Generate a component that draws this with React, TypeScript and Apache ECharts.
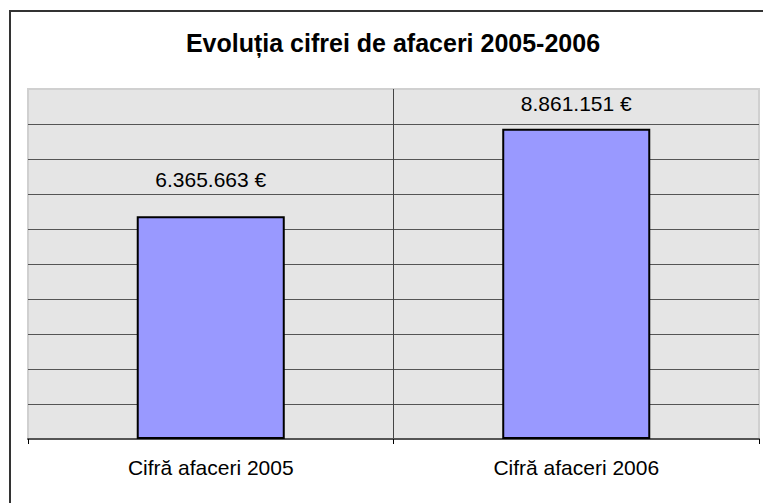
import React, { useEffect, useRef } from "react";
import * as echarts from "echarts";

const categories = ["Cifră afaceri 2005", "Cifră afaceri 2006"];
const values = [6365663, 8861151];
const labelDistances = [26, 15];
const titleText = "Evoluția cifrei de afaceri 2005-2006";

function fmt(v: number): string {
  return String(Math.round(v)).replace(/\B(?=(\d{3})+(?!\d))/g, ".") + " €";
}

export default function App() {
  const ref = useRef<HTMLDivElement>(null);
  useEffect(() => {
    if (!ref.current) return;
    const chart = echarts.init(ref.current, null, { renderer: "svg" });
    const font = "'Liberation Sans', Arial, sans-serif";
    chart.setOption({
      animation: false,
      backgroundColor: "#ffffff",
      graphic: [
        {
          type: "rect",
          shape: { x: 10, y: 11, width: 900, height: 700 },
          style: { fill: "none", stroke: "#333", lineWidth: 2 },
          silent: true,
        },
        {
          type: "text",
          x: 393,
          y: 43,
          style: {
            text: titleText,
            textAlign: "center",
            textVerticalAlign: "middle",
            fontFamily: font,
            fontSize: 25,
            fontWeight: "bold",
            fill: "#000",
          },
          silent: true,
        },
      ],
      grid: {
        left: 28,
        right: 4,
        top: 89,
        bottom: 64,
        containLabel: false,
        show: true,
        backgroundColor: "#e5e5e5",
        borderColor: "#d0d0d0",
        borderWidth: 2,
      },
      xAxis: {
        type: "category",
        data: categories,
        axisLine: { show: true, lineStyle: { color: "#555", width: 2 } },
        axisTick: { show: true, length: 5, lineStyle: { color: "#000", width: 1 } },
        axisLabel: { margin: 18, fontFamily: font, fontSize: 21, color: "#000" },
        splitLine: { show: true, showMinLine: false, showMaxLine: false, lineStyle: { color: "#444", width: 1 } },
      },
      yAxis: {
        type: "value",
        min: 0,
        max: 10000000,
        interval: 1000000,
        axisLine: { show: false },
        axisTick: { show: false },
        axisLabel: { show: false },
        splitLine: { show: true, showMinLine: false, showMaxLine: false, lineStyle: { color: "#555", width: 1 } },
      },
      series: [
        {
          type: "bar",
          barWidth: "40.5%",
          data: values.map((v, i) => ({
            value: v,
            label: { distance: labelDistances[i] },
          })),
          itemStyle: { color: "#9999ff", borderColor: "#000", borderWidth: 2 },
          label: {
            show: true,
            position: "top",
            fontFamily: font,
            fontSize: 21,
            color: "#000",
            formatter: (p: any) => fmt(p.value),
          },
        },
      ],
    });
    return () => chart.dispose();
  }, []);
  return (
    <div
      ref={ref}
      style={{ position: "absolute", left: 0, top: 0, width: 763, height: 503 }}
    />
  );
}
